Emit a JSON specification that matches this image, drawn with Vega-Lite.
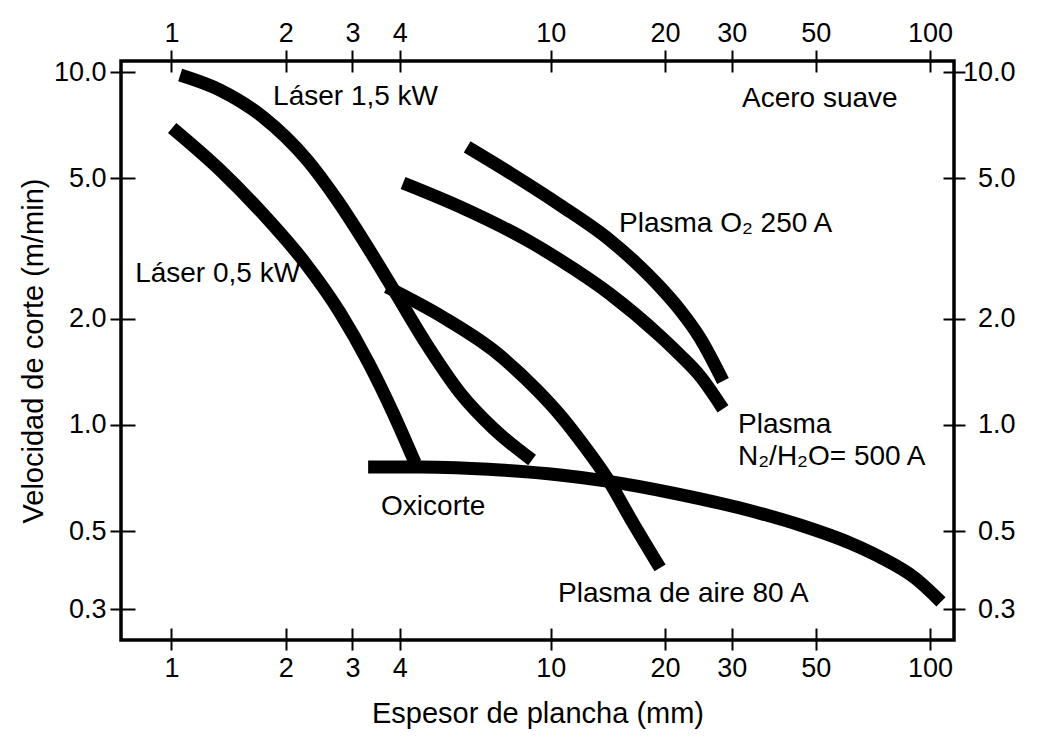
{
  "$schema": "https://vega.github.io/schema/vega-lite/v6.json",
  "autosize": {"type": "none"},
  "padding": {"left": 121, "top": 61, "right": 85, "bottom": 102},
  "width": 833,
  "height": 579,
  "background": "white",
  "view": {"stroke": "black", "strokeWidth": 3.5, "fill": "white"},
  "config": {
    "font": "Liberation Sans",
    "axis": {
      "domain": false,
      "grid": false,
      "tickColor": "black",
      "tickWidth": 2,
      "labelColor": "black",
      "labelFont": "Liberation Sans",
      "labelFontSize": 27,
      "titleColor": "black",
      "titleFont": "Liberation Sans",
      "titleFontSize": 29,
      "titleFontWeight": "normal",
      "labelOverlap": false,
      "labelFlush": false
    }
  },
  "datasets": {
    "curves": [
      {"curve": "Laser15", "x": 1.054, "y": 9.82},
      {"curve": "Laser15", "x": 1.343, "y": 8.90},
      {"curve": "Laser15", "x": 1.744, "y": 7.46},
      {"curve": "Laser15", "x": 2.278, "y": 5.64},
      {"curve": "Laser15", "x": 2.733, "y": 4.34},
      {"curve": "Laser15", "x": 3.238, "y": 3.28},
      {"curve": "Laser15", "x": 3.886, "y": 2.38},
      {"curve": "Laser15", "x": 4.72, "y": 1.685},
      {"curve": "Laser15", "x": 5.77, "y": 1.232},
      {"curve": "Laser15", "x": 7.04, "y": 0.980},
      {"curve": "Laser15", "x": 8.93, "y": 0.795},
      {"curve": "Laser05", "x": 1.004, "y": 6.95},
      {"curve": "Laser05", "x": 1.343, "y": 5.28},
      {"curve": "Laser05", "x": 1.733, "y": 3.99},
      {"curve": "Laser05", "x": 2.250, "y": 2.88},
      {"curve": "Laser05", "x": 2.783, "y": 2.08},
      {"curve": "Laser05", "x": 3.30, "y": 1.508},
      {"curve": "Laser05", "x": 3.84, "y": 1.081},
      {"curve": "Laser05", "x": 4.39, "y": 0.780},
      {"curve": "Oxicorte", "x": 3.30, "y": 0.760},
      {"curve": "Oxicorte", "x": 4.52, "y": 0.760},
      {"curve": "Oxicorte", "x": 7.35, "y": 0.745},
      {"curve": "Oxicorte", "x": 10.58, "y": 0.721},
      {"curve": "Oxicorte", "x": 14.07, "y": 0.693},
      {"curve": "Oxicorte", "x": 21.01, "y": 0.641},
      {"curve": "Oxicorte", "x": 31.56, "y": 0.581},
      {"curve": "Oxicorte", "x": 45.4, "y": 0.520},
      {"curve": "Oxicorte", "x": 61.5, "y": 0.4625},
      {"curve": "Oxicorte", "x": 73.8, "y": 0.422},
      {"curve": "Oxicorte", "x": 91.3, "y": 0.368},
      {"curve": "Oxicorte", "x": 106.9, "y": 0.315},
      {"curve": "Aire80", "x": 3.70, "y": 2.46},
      {"curve": "Aire80", "x": 5.20, "y": 2.02},
      {"curve": "Aire80", "x": 7.04, "y": 1.631},
      {"curve": "Aire80", "x": 9.20, "y": 1.256},
      {"curve": "Aire80", "x": 10.58, "y": 1.067},
      {"curve": "Aire80", "x": 12.31, "y": 0.866},
      {"curve": "Aire80", "x": 14.07, "y": 0.707},
      {"curve": "Aire80", "x": 16.48, "y": 0.527},
      {"curve": "Aire80", "x": 19.42, "y": 0.393},
      {"curve": "N2H2O", "x": 4.08, "y": 4.85},
      {"curve": "N2H2O", "x": 5.77, "y": 4.15},
      {"curve": "N2H2O", "x": 8.66, "y": 3.34},
      {"curve": "N2H2O", "x": 10.58, "y": 2.935},
      {"curve": "N2H2O", "x": 14.33, "y": 2.351},
      {"curve": "N2H2O", "x": 19.42, "y": 1.787},
      {"curve": "N2H2O", "x": 21.92, "y": 1.578},
      {"curve": "N2H2O", "x": 24.75, "y": 1.376},
      {"curve": "N2H2O", "x": 28.46, "y": 1.110},
      {"curve": "O2", "x": 6.02, "y": 6.14},
      {"curve": "O2", "x": 7.81, "y": 5.18},
      {"curve": "O2", "x": 10.58, "y": 4.20},
      {"curve": "O2", "x": 14.33, "y": 3.34},
      {"curve": "O2", "x": 16.68, "y": 2.897},
      {"curve": "O2", "x": 19.42, "y": 2.46},
      {"curve": "O2", "x": 21.92, "y": 2.117},
      {"curve": "O2", "x": 24.75, "y": 1.764},
      {"curve": "O2", "x": 28.46, "y": 1.332}
    ],
    "labels": [
      {"text": "Láser 1,5 kW", "x": 1.853, "y": 8.07},
      {"text": "Acero suave", "x": 31.94, "y": 7.97},
      {"text": "Plasma O₂ 250 A", "x": 15.14, "y": 3.52},
      {"text": "Láser 0,5 kW", "x": 0.802, "y": 2.543},
      {"text": "Plasma", "x": 31.18, "y": 0.949},
      {"text": "N₂/H₂O= 500 A", "x": 31.18, "y": 0.770},
      {"text": "Oxicorte", "x": 3.57, "y": 0.555},
      {"text": "Plasma de aire 80 A", "x": 10.45, "y": 0.315}
    ]
  },
  "resolve": {"axis": {"x": "independent", "y": "independent"}},
  "layer": [
    {
      "data": {"name": "curves"},
      "mark": {"type": "line", "color": "black", "strokeWidth": 13, "strokeCap": "butt", "interpolate": "monotone", "clip": true},
      "encoding": {
        "x": {
          "field": "x", "type": "quantitative",
          "scale": {"type": "log", "domain": [0.736, 115.7], "nice": false, "zero": false},
          "axis": {"orient": "bottom", "values": [1, 2, 3, 4, 10, 20, 30, 50, 100], "format": "d", "title": "Espesor de plancha (mm)", "offset": -12, "tickSize": 22, "labelPadding": 5, "titlePadding": 18}
        },
        "y": {
          "field": "y", "type": "quantitative",
          "scale": {"type": "log", "domain": [0.2455, 10.76], "nice": false, "zero": false},
          "axis": {"orient": "left", "values": [0.3, 0.5, 1, 2, 5, 10], "format": ".1f", "title": "Velocidad de corte (m/min)", "offset": -14, "tickSize": 25, "labelPadding": 4, "titlePadding": 5}
        },
        "detail": {"field": "curve", "type": "nominal"}
      }
    },
    {
      "data": {"name": "labels"},
      "mark": {"type": "text", "align": "left", "baseline": "alphabetic", "font": "Liberation Sans", "fontSize": 28, "color": "black"},
      "encoding": {
        "x": {
          "field": "x", "type": "quantitative",
          "scale": {"type": "log", "domain": [0.736, 115.7], "nice": false, "zero": false},
          "axis": {"orient": "top", "values": [1, 2, 3, 4, 10, 20, 30, 50, 100], "format": "d", "title": null, "offset": -11, "tickSize": 22, "labelPadding": 3}
        },
        "y": {
          "field": "y", "type": "quantitative",
          "scale": {"type": "log", "domain": [0.2455, 10.76], "nice": false, "zero": false},
          "axis": {"orient": "right", "values": [0.3, 0.5, 1, 2, 5, 10], "format": ".1f", "title": null, "offset": -11, "tickSize": 22, "labelPadding": 50, "labelAlign": "right"}
        },
        "text": {"field": "text", "type": "nominal"}
      }
    }
  ]
}
